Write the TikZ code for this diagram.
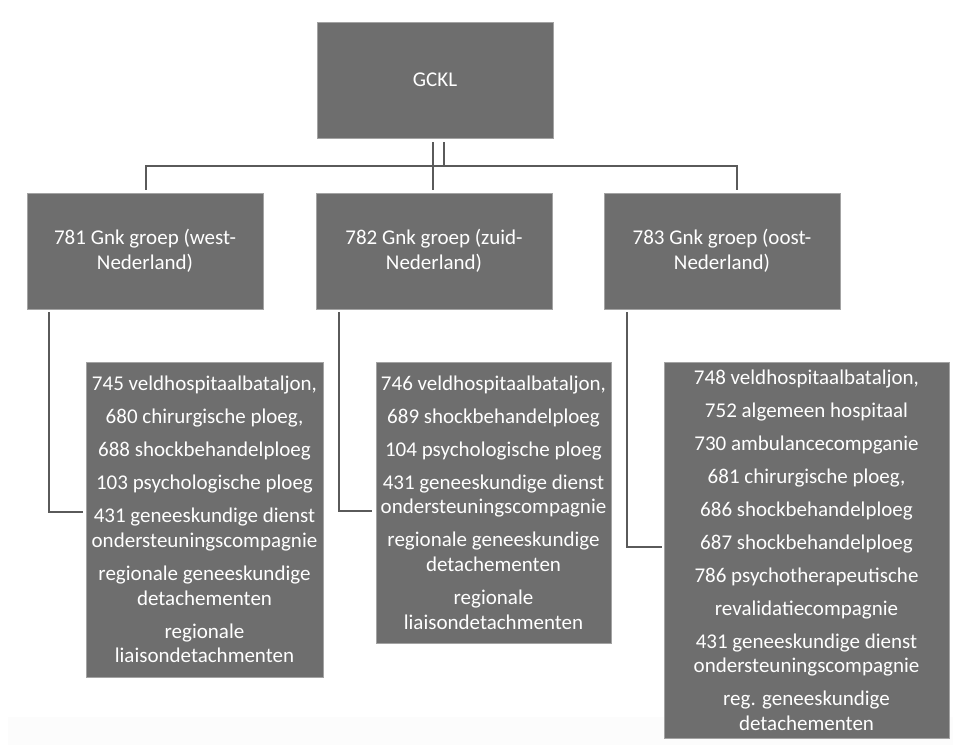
\documentclass[tikz,border=0pt]{standalone}
\usepackage{fontspec}
\setmainfont{Carlito}
\definecolor{boxgray}{HTML}{6E6E6E}
\definecolor{rimgray}{HTML}{A3A3A3}
\definecolor{linegray}{HTML}{5A5A5A}
\tikzset{
  unit/.style={draw=rimgray, line width=0.8pt, fill=boxgray, text=white,
    align=center, inner sep=0pt, font=\fontsize{21}{25}\selectfont},
  head/.style={unit, minimum width=236pt, minimum height=116pt},
  sub/.style={unit, font=\fontsize{21}{24.7}\selectfont},
  link/.style={draw=linegray, line width=2pt}
}
\begin{document}
\begin{tikzpicture}[x=1pt, y=-1pt]
  \useasboundingbox (0,0) rectangle (953,745);
  \fill[black!1] (8,717) rectangle (953,745);

  \node[head] (gckl) at (435,80) {GCKL};

  \node[head] (g781) at (145,251) {781 Gnk groep (west-\\Nederland)};
  \node[head] (g782) at (434,251) {782 Gnk groep (zuid-\\Nederland)};
  \node[head] (g783) at (722,251) {783 Gnk groep (oost-\\Nederland)};

  \node[sub, minimum width=237pt, minimum height=315pt] (c781) at (204.5,519.5)
    {745 veldhospitaalbataljon,\\[8.3pt]
     680 chirurgische ploeg,\\[8.3pt]
     688 shockbehandelploeg\\[8.3pt]
     103 psychologische ploeg\\[8.3pt]
     431 geneeskundige dienst\\ondersteuningscompagnie\\[8.3pt]
     regionale geneeskundige\\detachementen\\[8.3pt]
     regionale\\liaisondetachmenten};
  \node[sub, minimum width=235pt, minimum height=281pt] (c782) at (493.5,502.5)
    {746 veldhospitaalbataljon,\\[8.3pt]
     689 shockbehandelploeg\\[8.3pt]
     104 psychologische ploeg\\[8.3pt]
     431 geneeskundige dienst\\ondersteuningscompagnie\\[8.3pt]
     regionale geneeskundige\\detachementen\\[8.3pt]
     regionale\\liaisondetachmenten};
  \node[sub, minimum width=285pt, minimum height=376pt] (c783) at (806.5,550)
    {748 veldhospitaalbataljon,\\[8.3pt]
     752 algemeen hospitaal\\[8.3pt]
     730 ambulancecompganie\\[8.3pt]
     681 chirurgische ploeg,\\[8.3pt]
     686 shockbehandelploeg\\[8.3pt]
     687 shockbehandelploeg\\[8.3pt]
     786 psychotherapeutische\\[8.3pt]
     revalidatiecompagnie\\[8.3pt]
     431 geneeskundige dienst\\ondersteuningscompagnie\\[8.3pt]
     reg. geneeskundige\\detachementen};

  % top level
  \coordinate (bus) at (444,166);
  \draw[link] ([xshift=-2pt,yshift=-4pt]gckl.south) -- ([xshift=-1pt,yshift=3pt]g782.north);
  \draw[link] ([xshift=9pt,yshift=-4pt]gckl.south) -- (bus);
  \draw[link] ([xshift=1pt,yshift=3pt]g781.north) |- (bus)
    -| ([xshift=15pt,yshift=3pt]g783.north);

  % groups to units
  \draw[link] ([xshift=22pt,yshift=-3pt]g781.south west) |- ([xshift=-3pt,yshift=7.5pt]c781.west);
  \draw[link] ([xshift=23pt,yshift=-3pt]g782.south west) |- ([xshift=-4pt,yshift=-8.5pt]c782.west);
  \draw[link] ([xshift=23pt,yshift=-3pt]g783.south west) |- ([xshift=-2pt,yshift=3pt]c783.west);
\end{tikzpicture}
\end{document}
